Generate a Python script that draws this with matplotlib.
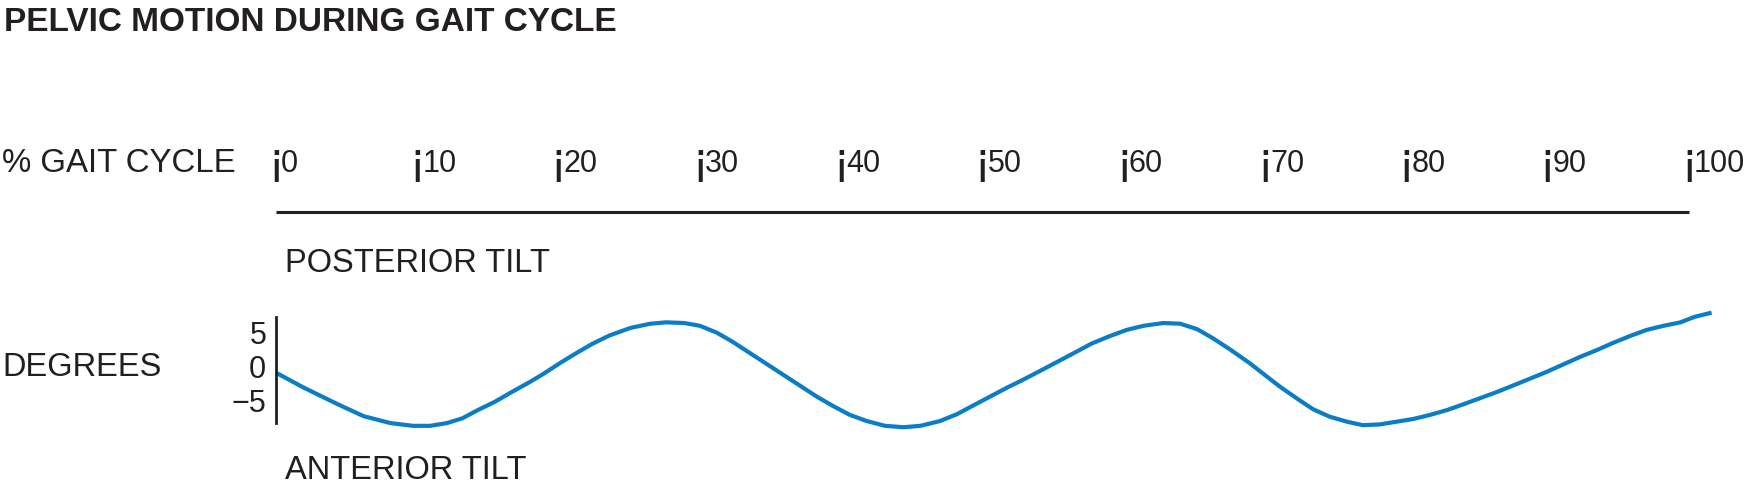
import matplotlib
matplotlib.use("Agg")
import matplotlib.pyplot as plt
import matplotlib.transforms as mtransforms

plt.rcParams['font.family'] = ['Liberation Sans', 'DejaVu Sans']

# ---- data ----
title = "PELVIC MOTION DURING GAIT CYCLE"
x_axis_label = "% GAIT CYCLE"
y_axis_label = "DEGREES"
upper_label = "POSTERIOR TILT"
lower_label = "ANTERIOR TILT"
gait_ticks = [0, 10, 20, 30, 40, 50, 60, 70, 80, 90, 100]
gait_tick_labels = ["¡0", "¡10", "¡20", "¡30", "¡40", "¡50", "¡60", "¡70", "¡80", "¡90", "¡100"]
deg_ticks = [5, 0, -5]
deg_tick_labels = ["5", "0", "\u22125"]

gait_pct = [0.0, 1.0, 1.9, 2.9, 4.3, 6.2, 8.1, 9.7, 10.9, 12.1, 13.2, 14.2, 15.5, 16.6,
            18.0, 18.9, 20.1, 21.3, 22.4, 23.6, 25.1, 26.5, 27.6, 28.9, 30.0, 31.2,
            32.3, 33.5, 34.7, 35.9, 37.1, 38.3, 39.4, 40.6, 41.8, 43.1, 44.4, 45.6,
            47.0, 48.2, 49.3, 50.5, 51.8, 52.7, 54.3, 55.5, 56.7, 57.7, 59.0, 60.2,
            61.4, 62.8, 64.0, 65.2, 66.3, 67.5, 68.9, 69.9, 71.1, 72.3, 73.4, 74.6,
            75.8, 76.9, 78.1, 79.3, 80.5, 81.7, 82.9, 84.0, 85.2, 86.4, 87.5, 88.7,
            89.9, 91.1, 92.3, 93.5, 94.6, 95.8, 97.0, 98.2, 99.4, 100.4, 101.6]
pelvic_tilt_deg = [-0.9, -2.0, -3.0, -4.0, -5.4, -7.2, -8.2, -8.6, -8.6, -8.2, -7.5, -6.4,
                   -5.1, -3.8, -2.2, -1.1, 0.5, 2.0, 3.3, 4.5, 5.6, 6.2, 6.4, 6.3, 5.9,
                   4.9, 3.6, 2.0, 0.4, -1.2, -2.8, -4.4, -5.7, -7.0, -7.9, -8.6, -8.8,
                   -8.6, -7.9, -6.9, -5.7, -4.4, -3.0, -2.1, -0.4, 0.9, 2.2, 3.3, 4.4,
                   5.3, 5.9, 6.3, 6.2, 5.4, 4.1, 2.5, 0.5, -1.1, -3.0, -4.7, -6.2, -7.3,
                   -8.0, -8.5, -8.4, -8.0, -7.6, -7.0, -6.3, -5.5, -4.6, -3.7, -2.8, -1.8,
                   -0.8, 0.3, 1.4, 2.4, 3.4, 4.4, 5.3, 5.9, 6.4, 7.2, 7.8]

# ---- styling ----
W, H = 1750, 488
ink = '#231f20'
blue = '#0b7dc6'

fig = plt.figure(figsize=(W / 100, H / 100), dpi=100)
fig.patch.set_facecolor('white')

def fy(py):
    return 1 - py / H

ax_left, ax_right = 276, 1689
ax_top, ax_bot = 317, 423
ax = fig.add_axes([ax_left / W, fy(ax_bot), (ax_right - ax_left) / W, (ax_bot - ax_top) / H])
zero_px, px_per_deg = 366.5, 6.9
ax.set_xlim(0, 100)
ax.set_ylim((zero_px - ax_bot) / px_per_deg, (zero_px - ax_top) / px_per_deg)
ax.patch.set_alpha(0)
for s in ['top', 'right', 'bottom']:
    ax.spines[s].set_visible(False)
ax.spines['left'].set_color(ink)
ax.spines['left'].set_linewidth(2.0)
ax.set_xticks([])
ax.set_yticks(deg_ticks)
ax.set_yticklabels(deg_tick_labels, fontsize=22, color=ink)
ax.tick_params(axis='y', length=0, pad=7)

ax.plot(gait_pct, pelvic_tilt_deg, color=blue, lw=3.0, clip_on=False,
        solid_capstyle='butt', solid_joinstyle='round')

blend = mtransforms.blended_transform_factory(ax.transData, fig.transFigure)

# top horizontal rule
ax.plot([gait_ticks[0], gait_ticks[-1]], [fy(212), fy(212)], color=ink, lw=2.2,
        transform=blend, clip_on=False, solid_capstyle='butt')

# gait tick labels: mark glyph + number
mark_tr = mtransforms.offset_copy(blend, fig=fig, x=0, y=-3, units='dots')
num_tr = mtransforms.offset_copy(blend, fig=fig, x=5, y=0, units='dots')
for v, lab in zip(gait_ticks, gait_tick_labels):
    fig.text(v, fy(172), lab[0], transform=mark_tr, ha='center', va='baseline',
             fontsize=34, color=ink)
    fig.text(v, fy(172), lab[1:], transform=num_tr, ha='left', va='baseline',
             fontsize=22, color=ink)

fig.text(4.5 / W, fy(31), title, ha='left', va='baseline', fontsize=24,
         fontweight='bold', color=ink)
fig.text(2 / W, fy(172), x_axis_label, ha='left', va='baseline', fontsize=23.8, color=ink)
fig.text(2 / W, fy(376), y_axis_label, ha='left', va='baseline', fontsize=23.5, color=ink)
fig.text(285 / W, fy(272), upper_label, ha='left', va='baseline', fontsize=23.5, color=ink)
fig.text(285 / W, fy(479), lower_label, ha='left', va='baseline', fontsize=23.5, color=ink)

fig.savefig('out.png', dpi=100, facecolor='white')
